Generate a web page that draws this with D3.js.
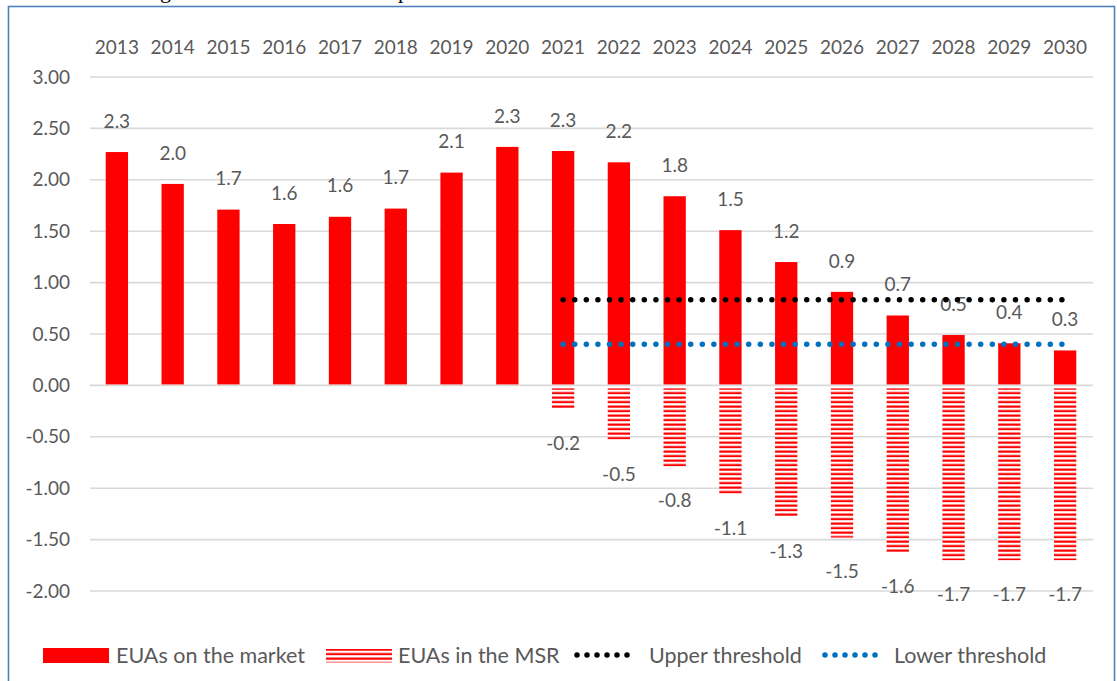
<!DOCTYPE html>
<html>
<head>
<meta charset="utf-8">
<script src="https://cdn.jsdelivr.net/npm/d3@7"></script>
<style>
  body { margin: 0; background: #fff; }
  text { font-family: Lato, "Open Sans", sans-serif; fill: #595959; }
</style>
</head>
<body>
<div id="chart"></div>
<script>
// chart data
var years = ["2013", "2014", "2015", "2016", "2017", "2018", "2019", "2020", "2021",
  "2022", "2023", "2024", "2025", "2026", "2027", "2028", "2029", "2030"];
var market = [2.27, 1.96, 1.71, 1.57, 1.64, 1.72, 2.07, 2.32, 2.28, 2.17, 1.84, 1.51,
  1.20, 0.91, 0.68, 0.49, 0.41, 0.34];
var msr = [null, null, null, null, null, null, null, null, -0.23, -0.53, -0.79, -1.06,
  -1.28, -1.48, -1.62, -1.70, -1.70, -1.70];
var upperThreshold = [null, null, null, null, null, null, null, null, 0.833, 0.833, 0.833,
  0.833, 0.833, 0.833, 0.833, 0.833, 0.833, 0.833];
var lowerThreshold = [null, null, null, null, null, null, null, null, 0.40, 0.40, 0.40,
  0.40, 0.40, 0.40, 0.40, 0.40, 0.40, 0.40];
var yTicks = [3, 2.5, 2, 1.5, 1, 0.5, 0, -0.5, -1, -1.5, -2];
var legendLabels = ["EUAs on the market", "EUAs in the MSR", "Upper threshold", "Lower threshold"];

var svgWidth = 1117, svgHeight = 681;
var svg = d3.select("#chart").append("svg")
  .attr("width", svgWidth)
  .attr("height", svgHeight);

// hatch pattern for the MSR bars
var defs = svg.append("defs");
var pat = defs.append("pattern")
  .attr("id", "hatch")
  .attr("patternUnits", "userSpaceOnUse")
  .attr("width", 10).attr("height", 4.5);
pat.append("rect").attr("width", 10).attr("height", 4.5).attr("fill", "#fff");
pat.append("rect").attr("y", 0.5).attr("width", 10).attr("height", 2.2).attr("fill", "#ff0000");

// caption fragment cut off above the frame
svg.append("text").attr("x", 160).attr("y", -2)
  .style("font-family", "'Liberation Serif', serif").style("fill", "#000")
  .attr("font-size", 22).text("g");
svg.append("text").attr("x", 398).attr("y", -2)
  .style("font-family", "'Liberation Serif', serif").style("fill", "#000")
  .attr("font-size", 22).text("p");

// frame
svg.append("rect")
  .attr("x", 8.5).attr("y", 6.5)
  .attr("width", 1106).attr("height", 700)
  .attr("fill", "none")
  .attr("stroke", "#4f81bd")
  .attr("stroke-width", 1.6);

var x = d3.scaleBand().domain(years).range([89, 1093]).paddingInner(0.6).paddingOuter(0.3);
var y = d3.scaleLinear().domain([-2, 3]).range([591, 77]);
var bw = x.bandwidth();
var cx = function(d) { return x(d) + bw / 2; };

// gridlines
svg.append("g").selectAll("line")
  .data(yTicks).enter().append("line")
  .attr("x1", 90).attr("x2", 1093)
  .attr("y1", d => y(d)).attr("y2", d => y(d))
  .attr("stroke", "#d9d9d9")
  .attr("stroke-width", 1.6);

// y axis labels
svg.append("g").selectAll("text")
  .data(yTicks).enter().append("text")
  .attr("x", 70)
  .attr("y", d => y(d))
  .attr("dy", "0.35em")
  .attr("text-anchor", "end")
  .attr("font-size", 19)
  .text(d => d3.format(".2f")(d).replace("−", "-"));

// year labels on top
svg.append("g").selectAll("text")
  .data(years).enter().append("text")
  .attr("x", d => cx(d))
  .attr("y", 47)
  .attr("dy", "0.35em")
  .attr("text-anchor", "middle")
  .attr("font-size", 19)
  .text(d => d);

var rows = years.map(function(d, i) {
  return { year: d, market: market[i], msr: msr[i], up: upperThreshold[i], low: lowerThreshold[i] };
});

// market bars
svg.append("g").selectAll("rect")
  .data(rows).enter().append("rect")
  .attr("x", d => x(d.year))
  .attr("y", d => y(d.market))
  .attr("width", bw)
  .attr("height", d => y(0) - y(d.market) - 1)
  .attr("fill", "#ff0000");

// MSR bars (hatched)
var msrRows = rows.filter(d => d.msr !== null);
svg.append("g").selectAll("rect")
  .data(msrRows).enter().append("rect")
  .attr("x", d => x(d.year))
  .attr("y", y(0) + 3)
  .attr("width", bw)
  .attr("height", d => y(d.msr) - y(0) - 3)
  .attr("fill", "url(#hatch)");

// value labels
var fmt = function(v) { return d3.format(".1f")(v).replace("−", "-"); };
svg.append("g").selectAll("text")
  .data(rows).enter().append("text")
  .attr("x", d => cx(d.year))
  .attr("y", d => y(d.market) - 31)
  .attr("dy", "0.35em")
  .attr("text-anchor", "middle")
  .attr("font-size", 19)
  .text(d => fmt(d.market));

svg.append("g").selectAll("text")
  .data(msrRows).enter().append("text")
  .attr("x", d => cx(d.year))
  .attr("y", d => y(d.msr) + 34)
  .attr("dy", "0.35em")
  .attr("text-anchor", "middle")
  .attr("font-size", 19)
  .text(d => fmt(d.msr));

// threshold lines (dotted)
var line = function(key) {
  return d3.line()
    .defined(d => d[key] !== null)
    .x(d => cx(d.year))
    .y(d => y(d[key]));
};
svg.append("path")
  .datum(rows)
  .attr("d", line("up"))
  .attr("fill", "none")
  .attr("stroke", "#000")
  .attr("stroke-width", 5.5)
  .attr("stroke-linecap", "round")
  .attr("stroke-dasharray", "0 11.6");
svg.append("path")
  .datum(rows)
  .attr("d", line("low"))
  .attr("fill", "none")
  .attr("stroke", "#0070c0")
  .attr("stroke-width", 5.5)
  .attr("stroke-linecap", "round")
  .attr("stroke-dasharray", "0 11.6");

// legend
var legend = svg.append("g");
legend.append("rect").attr("x", 43).attr("y", 648).attr("width", 66).attr("height", 15).attr("fill", "#ff0000");
legend.append("rect").attr("x", 326).attr("y", 649).attr("width", 66).attr("height", 13.5).attr("fill", "url(#hatch)");
legend.append("line").attr("x1", 577).attr("x2", 637).attr("y1", 655).attr("y2", 655)
  .attr("stroke", "#000").attr("stroke-width", 5.5).attr("stroke-linecap", "round")
  .attr("stroke-dasharray", "0 10");
legend.append("line").attr("x1", 825).attr("x2", 885).attr("y1", 655).attr("y2", 655)
  .attr("stroke", "#0070c0").attr("stroke-width", 5.5).attr("stroke-linecap", "round")
  .attr("stroke-dasharray", "0 10");
var legendX = [116, 398, 649, 894];
legend.selectAll("text.lg")
  .data(legendLabels).enter().append("text")
  .attr("class", "lg")
  .attr("x", (d, i) => legendX[i])
  .attr("y", 655)
  .attr("dy", "0.35em")
  .attr("font-size", 21.5)
  .text(d => d);
</script>
</body>
</html>
